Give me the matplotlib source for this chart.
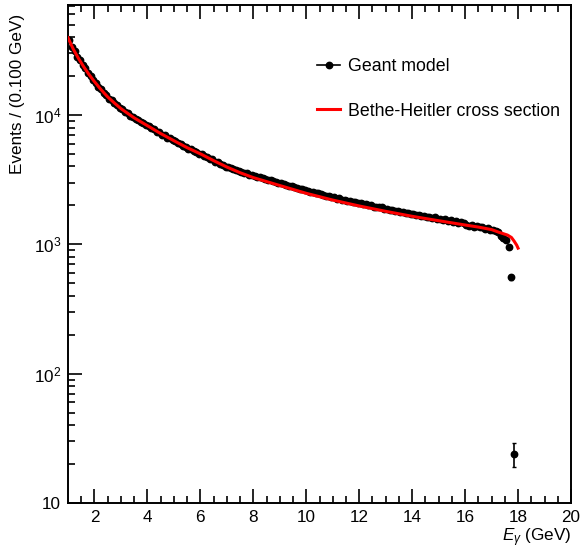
import numpy as np
import matplotlib
matplotlib.use("Agg")
import matplotlib.pyplot as plt
from matplotlib.lines import Line2D
from matplotlib.ticker import FixedLocator, NullFormatter, LogLocator

plt.rcParams['font.family'] = ['Liberation Sans', 'DejaVu Sans']
plt.rcParams['mathtext.fontset'] = 'custom'
plt.rcParams['mathtext.rm'] = 'Liberation Sans'
plt.rcParams['mathtext.it'] = 'Liberation Sans:italic'

# ---- data: Geant model histogram (bin centres every 0.1 GeV) ----
bin_start = 1.05
bin_width = 0.1
geant_counts = [
    37800, 33600, 31200, 28100, 26500, 24200, 22900, 21000, 20100, 18600,
    17700, 16500, 15800, 14800, 14300, 13400, 13000, 12300, 11950, 11350,
    11100, 10600, 10350, 9900, 9700, 9300, 9150, 8800, 8650, 8350,
    8200, 7900, 7750, 7450, 7350, 7050, 6950, 6700, 6600, 6380,
    6300, 6050, 5980, 5750, 5700, 5480, 5450, 5250, 5220, 5030,
    4980, 4800, 4760, 4580, 4530, 4360, 4330, 4170, 4120, 3980,
    3950, 3900, 3800, 3780, 3700, 3640, 3560, 3540, 3450, 3420,
    3400, 3330, 3310, 3230, 3210, 3150, 3140, 3070, 3050, 2980,
    2980, 2920, 2900, 2850, 2830, 2760, 2750, 2700, 2680, 2610,
    2600, 2540, 2540, 2490, 2480, 2430, 2420, 2380, 2370, 2320,
    2310, 2260, 2270, 2210, 2220, 2170, 2170, 2130, 2130, 2080,
    2070, 2040, 2040, 2000, 2000, 1960, 1960, 1930, 1930, 1890,
    1880, 1840, 1850, 1810, 1820, 1780, 1790, 1750, 1760, 1720,
    1720, 1690, 1700, 1660, 1670, 1630, 1640, 1600, 1620, 1580,
    1580, 1550, 1560, 1520, 1530, 1500, 1510, 1470, 1490, 1450,
    1400, 1380, 1400, 1360, 1380, 1350, 1360, 1320, 1340, 1300,
    1290, 1270, 1250, 1170, 1110, 1080, 950, 555, 24,
]

# ---- Bethe-Heitler curve ----
bh_energy = [1.0, 1.2, 1.4, 1.6, 1.8, 2.0, 2.25, 2.5, 2.75, 3.0, 3.5, 4.0,
             4.5, 5.0, 5.5, 6.0, 6.5, 7.0, 7.5, 8.0, 9.0, 10.0, 11.0, 12.0,
             13.0, 14.0, 15.0, 16.0, 16.5, 17.0, 17.3, 17.6, 17.75, 17.85,
             17.95, 18.0]
bh_value = [39600, 32300, 27300, 23500, 20500, 18100, 15700, 13800, 12400,
            11200, 9500, 8270, 7190, 6330, 5590, 5010, 4440, 3960, 3580,
            3280, 2850, 2480, 2200, 1980, 1800, 1647, 1523, 1411, 1360,
            1300, 1235, 1180, 1130, 1060, 985, 935]

x_ticks = [2, 4, 6, 8, 10, 12, 14, 16, 18, 20]
y_major = [10, 100, 1000, 10000]
y_labels = ['10', r'$10^{2}$', r'$10^{3}$', r'$10^{4}$']

counts = np.array(geant_counts, dtype=float)
centres = bin_start + bin_width * np.arange(len(counts))
errs = np.sqrt(counts)

W, H = 583, 554
fig = plt.figure(figsize=(W / 100, H / 100), dpi=100)
ax = fig.add_axes([68 / W, 1 - 503 / H, (571 - 68) / W, (503 - 5) / H])

ax.errorbar(centres, counts, yerr=errs, fmt='o', color='black',
            markersize=4.6, elinewidth=1.2, capsize=1.5, capthick=1.0,
            zorder=2)
ax.plot(bh_energy, bh_value, color='#ff0000', lw=2.2, zorder=3)

ax.set_yscale('log')
ax.set_xlim(1, 20)
ax.set_ylim(10, 70900)

ax.xaxis.set_major_locator(FixedLocator(x_ticks))
ax.xaxis.set_minor_locator(FixedLocator(np.arange(1.5, 20, 0.5)))
ax.set_xticklabels([str(t) for t in x_ticks])
ax.yaxis.set_major_locator(FixedLocator(y_major))
ax.set_yticklabels(y_labels)
ax.yaxis.set_minor_locator(LogLocator(base=10, subs=np.arange(2, 10)))
ax.yaxis.set_minor_formatter(NullFormatter())

ax.tick_params(axis='both', which='both', direction='in', top=True,
               right=False, labelsize=12.3, width=1.2, color='black')
ax.tick_params(axis='both', which='major', length=10)
ax.tick_params(axis='both', which='minor', length=5)
ax.tick_params(axis='x', which='major', pad=5)
ax.tick_params(axis='y', which='major', pad=5)
for s in ax.spines.values():
    s.set_linewidth(1.4)

fig.text(571 / W, 1 - 538 / H, r'$E_{\gamma}$ (GeV)', ha='right',
         va='center', fontsize=12.3)
fig.text(18 / W, 1 - 14 / H, 'Events / (0.100 GeV)', ha='center',
         va='top', rotation=90, fontsize=12.3)

handles = [Line2D([], [], color='black', marker='o', markersize=4.6, lw=1.2),
           Line2D([], [], color='#ff0000', lw=2.2)]
ax.legend(handles, ['Geant model', 'Bethe-Heitler cross section'],
          loc='upper left', bbox_to_anchor=(317 / W, 1 - 58 / H),
          bbox_transform=fig.transFigure, frameon=False, fontsize=12.8,
          borderpad=0, borderaxespad=0, handlelength=1.3,
          handletextpad=0.42, labelspacing=1.55)

fig.savefig('out.png', dpi=100)
